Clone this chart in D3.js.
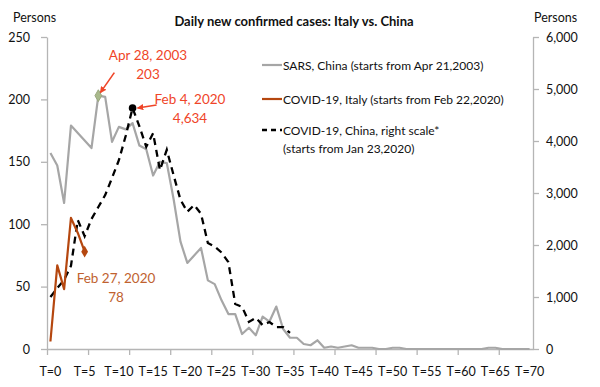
<!DOCTYPE html>
<html>
<head>
<meta charset="utf-8">
<script src="https://cdn.jsdelivr.net/npm/d3@7"></script>
<style>
  body { margin: 0; background: #fff; }
  text { font-family: Lato, "Open Sans", sans-serif; fill: #111; }
</style>
</head>
<body>
<svg id="chart" width="600" height="387"></svg>
<script>
// T = days since start, 0..70
const days = d3.range(0, 71);
const tickLabels = d3.range(0, 71, 5);
const leftTicks = [0, 50, 100, 150, 200, 250];
const rightTicks = [0, 1000, 2000, 3000, 4000, 5000, 6000];

// SARS, China (from Apr 21, 2003), left scale
const sarsChina = [157, 147, 117, 179, 173, 167, 161, 203, 202, 166,
  178, 176, 181, 163, 160, 139, 150, 149, 120, 86,
  69, 75, 81, 55, 52, 39, 28, 28, 12, 17,
  11, 26, 22, 34, 16, 9, 9, 4, 3, 7,
  1, 2, 1, 2, 3, 1, 1, 1, 0, 0,
  1, 1, 0, 0, 0, 0, 0, 0, 0, 0,
  0, 0, 0, 0, 1, 1, 0, 0, 0, 0, 0];

// COVID-19, Italy (from Feb 22, 2020), left scale
const italy = [6, 67, 48, 105, 93, 78];

// COVID-19, China (from Jan 23, 2020), right scale
const china = [1000, 1170, 1330, 1600, 2480, 2170, 2500, 2730, 2960, 3290,
  3630, 4100, 4634, 4280, 3890, 4150, 3440, 3830, 3340, 2870,
  2640, 2770, 2600, 2040, 1970, 1855, 1670, 865, 810, 520,
  600, 460, 520, 420, 420, 310];

const svg = d3.select("#chart");
const plotL = 47, plotR = 533, plotT = 37, plotB = 349;

const x = d3.scaleLinear().domain([-0.5, 70.5]).range([plotL, plotR]);
const yL = d3.scaleLinear().domain([0, 250]).range([plotB, plotT]);
const yR = d3.scaleLinear().domain([0, 6000]).range([plotB, plotT]);

const axisColor = "#b5b5b5";

// axes
const gL = svg.append("g")
  .attr("transform", `translate(${plotL},0)`)
  .call(d3.axisLeft(yL).tickValues(leftTicks).tickSize(6).tickSizeOuter(0).tickPadding(11));
const gR = svg.append("g")
  .attr("transform", `translate(${plotR},0)`)
  .call(d3.axisRight(yR).tickValues(rightTicks).tickSize(6).tickSizeOuter(0).tickPadding(7)
    .tickFormat(d3.format(",")));
const gX = svg.append("g")
  .attr("transform", `translate(0,${plotB})`)
  .call(d3.axisBottom(x).tickValues(d3.range(-0.5, 66, 6)).tickSize(6).tickSizeOuter(0).tickFormat(""));

[gL, gR, gX].forEach(g => {
  g.select(".domain").attr("stroke", axisColor).attr("stroke-width", 1.3);
  g.selectAll(".tick line").attr("stroke", axisColor).attr("stroke-width", 1.3);
  g.selectAll(".tick text").style("font-size", "12.5px").attr("fill", "#111");
});

svg.append("g").selectAll("text")
  .data(tickLabels)
  .join("text")
  .attr("x", d => x(d))
  .attr("y", 376)
  .attr("text-anchor", "middle")
  .style("font-size", "12.5px")
  .text(d => "T=" + d);

// titles
svg.append("text").attr("x", 13).attr("y", 22).style("font-size", "12.5px").text("Persons");
svg.append("text").attr("x", 534).attr("y", 22).style("font-size", "12.5px").text("Persons");
svg.append("text").attr("x", 294).attr("y", 26).attr("text-anchor", "middle")
  .style("font-size", "13px").style("font-weight", "bold").text("Daily new confirmed cases: Italy vs. China");

// lines
const lineL = d3.line().x((d, i) => x(i)).y(d => yL(d));
const lineR = d3.line().x((d, i) => x(i)).y(d => yR(d));

const grey = "#a6a6a6", brown = "#b5470f", red = "#ef4528";

svg.append("path").datum(sarsChina).attr("d", lineL)
  .attr("fill", "none").attr("stroke", grey).attr("stroke-width", 2.2).attr("stroke-linejoin", "round");
svg.append("path").datum(china).attr("d", lineR)
  .attr("fill", "none").attr("stroke", "#000").attr("stroke-width", 2.3).attr("stroke-dasharray", "7,5");
svg.append("path").datum(italy).attr("d", lineL)
  .attr("fill", "none").attr("stroke", brown).attr("stroke-width", 2.2).attr("stroke-linejoin", "round");

// markers
const diamond = d3.symbol().type(d3.symbolDiamond).size(40);
const sarsPeak = d3.maxIndex(sarsChina);
const chinaPeak = d3.maxIndex(china);
const italyLast = italy.length - 1;

svg.append("path").attr("d", diamond)
  .attr("transform", `translate(${x(sarsPeak)},${yL(sarsChina[sarsPeak])})`)
  .attr("fill", "#a9b98c").attr("stroke", "#9aa77e");
svg.append("path").attr("d", diamond)
  .attr("transform", `translate(${x(italyLast)},${yL(italy[italyLast])})`)
  .attr("fill", brown);
svg.append("circle")
  .attr("cx", x(chinaPeak)).attr("cy", yR(china[chinaPeak])).attr("r", 3.8).attr("fill", "#000");

// arrows
svg.append("defs").append("marker")
  .attr("id", "arrow").attr("viewBox", "0 0 10 10").attr("refX", 9).attr("refY", 5)
  .attr("markerWidth", 4).attr("markerHeight", 4).attr("orient", "auto-start-reverse")
  .append("path").attr("d", "M0,0 L10,5 L0,10 z").attr("fill", red);

const sp = [x(sarsPeak), yL(sarsChina[sarsPeak])];
svg.append("line")
  .attr("x1", sp[0] + 16).attr("y1", sp[1] - 23).attr("x2", sp[0] + 2).attr("y2", sp[1] - 3)
  .attr("stroke", red).attr("stroke-width", 1.6).attr("marker-end", "url(#arrow)");
const cp = [x(chinaPeak), yR(china[chinaPeak])];
svg.append("line")
  .attr("x1", cp[0] + 24).attr("y1", cp[1] - 3).attr("x2", cp[0] + 5).attr("y2", cp[1])
  .attr("stroke", red).attr("stroke-width", 1.6).attr("marker-end", "url(#arrow)");

// annotations
const note = (lines, cx, y0, color) => {
  lines.forEach((t, i) => {
    svg.append("text").attr("x", cx).attr("y", y0 + i * 19).attr("text-anchor", "middle")
      .style("font-size", "13.5px").style("fill", color).text(t);
  });
};
note(["Apr 28, 2003", d3.format(",")(sarsChina[sarsPeak])], 148, 60, red);
note(["Feb 4, 2020", d3.format(",")(china[chinaPeak])], 190, 104, red);
note(["Feb 27, 2020", d3.format(",")(italy[italyLast])], 116, 283, "#c0622f");

// legend
const legend = svg.append("g");
legend.append("line").attr("x1", 262).attr("x2", 282).attr("y1", 65).attr("y2", 65)
  .attr("stroke", grey).attr("stroke-width", 2.2);
legend.append("line").attr("x1", 262).attr("x2", 282).attr("y1", 99).attr("y2", 99)
  .attr("stroke", brown).attr("stroke-width", 2.2);
legend.append("line").attr("x1", 262).attr("x2", 282).attr("y1", 130).attr("y2", 130)
  .attr("stroke", "#000").attr("stroke-width", 2.3).attr("stroke-dasharray", "5,4");
const legendText = [
  ["SARS, China (starts from Apr 21,2003)", 70],
  ["COVID-19, Italy (starts from Feb 22,2020)", 104],
  ["COVID-19, China, right scale*", 135],
  ["(starts from Jan 23,2020)", 153]
];
legend.selectAll("text").data(legendText).join("text")
  .attr("x", 283).attr("y", d => d[1]).style("font-size", "12px").text(d => d[0]);
</script>
</body>
</html>
